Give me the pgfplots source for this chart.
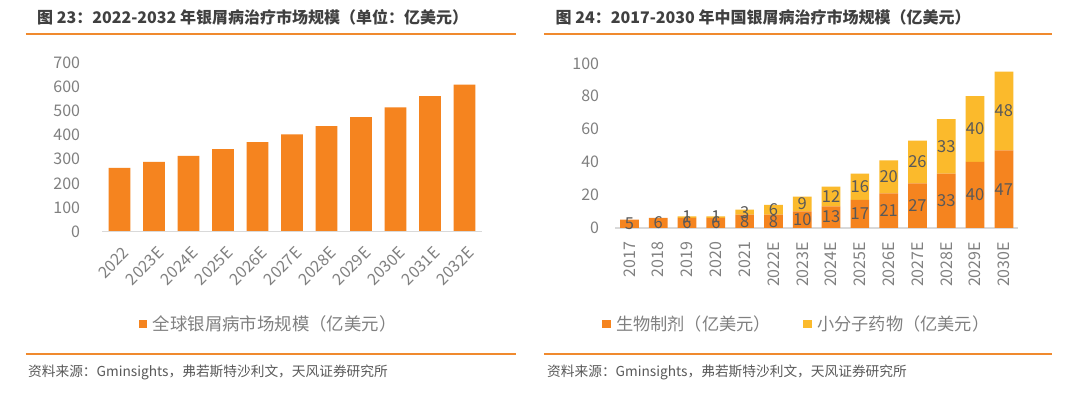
\documentclass[border=0pt]{standalone}
\usepackage{fontspec}
\setmainfont{Noto Sans CJK SC}
\usepackage{pgfplots}
\pgfplotsset{compat=1.18}
\usepackage{pgfplotstable}
\definecolor{barorange}{HTML}{F5841F}
\definecolor{baryellow}{HTML}{FBBA2C}
\definecolor{rulecol}{HTML}{F08A2E}
\definecolor{ticktext}{HTML}{808080}
\definecolor{titletext}{HTML}{404040}
\definecolor{axisgray}{HTML}{D9D9D9}
\definecolor{labeltext}{HTML}{595959}

\pgfplotstableread{
x val
0 264
1 289
2 313
3 341
4 370
5 402
6 437
7 474
8 514
9 561
10 608
}\globaltable

\pgfplotstableread{
x bio small
0 5 0
1 6 0
2 6 1
3 6 1
4 8 3
5 8 6
6 10 9
7 13 12
8 17 16
9 21 20
10 27 26
11 33 33
12 40 40
13 47 48
}\chinatable

\begin{document}
\begin{tikzpicture}
\useasboundingbox (0pt,0pt) rectangle (1080pt,396pt);
\fill[white] (0pt,0pt) rectangle (1080pt,396pt);

% titles
\node[anchor=west, inner sep=0, text=titletext, font=\fontsize{16}{18}\selectfont\bfseries] at (37pt,379pt) {图 23：2022-2032 年银屑病治疗市场规模（单位：亿美元）};
\node[anchor=west, inner sep=0, text=titletext, font=\fontsize{16}{18}\selectfont\bfseries] at (555.5pt,379pt) {图 24：2017-2030 年中国银屑病治疗市场规模（亿美元）};
\draw[rulecol, line width=2pt] (25.8pt,361.7pt) -- (515.5pt,361.7pt);
\draw[rulecol, line width=2pt] (544pt,361.7pt) -- (1052pt,361.7pt);
\draw[rulecol, line width=1.5pt] (25.8pt,42pt) -- (515.5pt,42pt);
\draw[rulecol, line width=1.5pt] (544pt,42pt) -- (1052pt,42pt);

% sources
\node[anchor=west, inner sep=0, text=labeltext, font=\fontsize{13.7}{16}\selectfont] at (28pt,23.3pt) {资料来源：Gminsights，弗若斯特沙利文，天风证券研究所};
\node[anchor=west, inner sep=0, text=labeltext, font=\fontsize{13.7}{16}\selectfont] at (547pt,23.3pt) {资料来源：Gminsights，弗若斯特沙利文，天风证券研究所};

% legends
\fill[barorange] (139.3pt,68pt) rectangle (147.3pt,76pt);
\node[anchor=west, inner sep=0, text=ticktext, font=\fontsize{17.4}{20}\selectfont] at (152.7pt,72pt) {全球银屑病市场规模（亿美元）};
\fill[barorange] (602pt,67.5pt) rectangle (610.5pt,76pt);
\node[anchor=west, inner sep=0, text=ticktext, font=\fontsize{17.2}{20}\selectfont] at (615.8pt,72pt) {生物制剂（亿美元）};
\fill[baryellow] (803.4pt,67.5pt) rectangle (811.9pt,76pt);
\node[anchor=west, inner sep=0, text=ticktext, font=\fontsize{17.2}{20}\selectfont] at (817pt,72pt) {小分子药物（亿美元）};

% left chart
\begin{axis}[
  at={(102.3pt,164.3pt)}, anchor=south west, scale only axis,
  width=379.4pt, height=169.3pt,
  xmin=-0.5, xmax=10.5, ymin=0, ymax=700,
  ytick={0,100,...,700},
  xtick={0,...,10},
  xticklabels={2022,2023E,2024E,2025E,2026E,2027E,2028E,2029E,2030E,2031E,2032E},
  axis line style={draw=none}, major tick length=0, tick style={draw=none},
  tick label style={font=\fontsize{16}{18}\selectfont, text=ticktext},
  /pgf/number format/assume math mode=true,
  yticklabel style={anchor=east, inner sep=0pt},
  yticklabel shift=22pt,
  xticklabel style={rotate=45, anchor=east, inner sep=0pt, xshift=-8.2pt, yshift=-17.8pt},
  ybar, bar width=21.7pt, clip=false,
]
\addplot[fill=barorange, draw=none] table[x=x,y=val]{\globaltable};
\draw[axisgray, line width=1.5pt] (axis cs:-0.5,0) -- (axis cs:10.5,0);
\end{axis}

% right chart
\begin{axis}[
  at={(615pt,168.2pt)}, anchor=south west, scale only axis,
  width=403.3pt, height=164.5pt,
  xmin=-0.5, xmax=13.5, ymin=0, ymax=100,
  ytick={0,20,...,100},
  xtick={0,...,13},
  xticklabels={2017,2018,2019,2020,2021,2022E,2023E,2024E,2025E,2026E,2027E,2028E,2029E,2030E},
  axis line style={draw=none}, major tick length=0, tick style={draw=none},
  tick label style={font=\fontsize{16}{18}\selectfont, text=ticktext},
  /pgf/number format/assume math mode=true,
  yticklabel style={anchor=east, inner sep=0pt},
  yticklabel shift=15.7pt,
  xticklabel style={rotate=90, anchor=east, inner sep=0pt},
  xticklabel shift=14pt,
  ybar stacked, bar width=18.7pt, clip=false,
]
\addplot[fill=barorange, draw=none,
  visualization depends on={\thisrow{bio} \as \segh},
  nodes near coords={\pgfmathprintnumber{\segh}},
  every node near coord/.append style={anchor=center, inner sep=0pt, text=labeltext, font=\fontsize{16.5}{18}\selectfont},
] table[x=x,y=bio]{\chinatable};
\addplot[fill=baryellow, draw=none,
  visualization depends on={\thisrow{small} \as \segh},
  nodes near coords={\pgfmathprintnumber{\segh}},
  every node near coord/.append style={anchor=center, inner sep=0pt, text=labeltext, font=\fontsize{16.5}{18}\selectfont},
] table[x=x,y=small]{\chinatable};
\draw[axisgray, line width=1.5pt] (axis cs:-0.5,0) -- (axis cs:13.5,0);
\end{axis}
\end{tikzpicture}
\end{document}
